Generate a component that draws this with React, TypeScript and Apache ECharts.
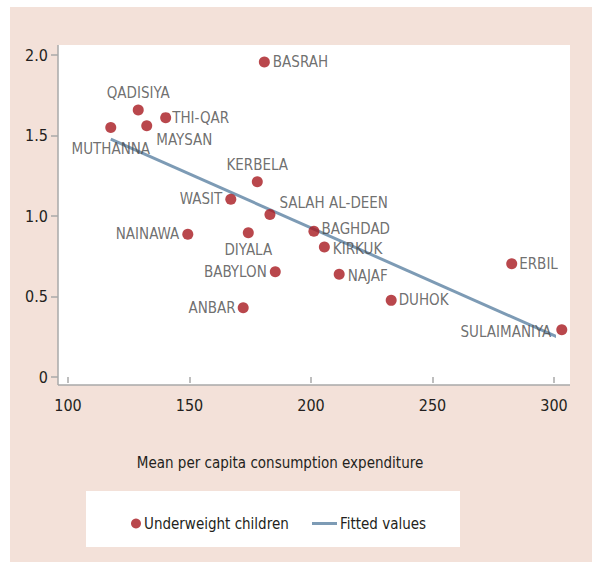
import React, { useEffect, useRef } from "react";
import * as echarts from "echarts";

const names = ["BASRAH","QADISIYA","MAYSAN","THI-QAR","MUTHANNA","KERBELA","WASIT","SALAH AL-DEEN","NAINAWA","DIYALA","BABYLON","ANBAR","BAGHDAD","KIRKUK","NAJAF","DUHOK","ERBIL","SULAIMANIYA"];
const expenditure = [180.8,128.9,132.4,140.2,117.6,177.9,167.0,183.1,149.3,174.2,185.3,172.1,201.2,205.5,211.6,233.0,282.6,303.2];
const underweight = [1.957,1.658,1.561,1.611,1.549,1.213,1.104,1.010,0.886,0.896,0.654,0.430,0.905,0.807,0.638,0.476,0.704,0.294];
const fitX = [117.6, 303.2];
const fitY = [1.478, 0.236];
const xTicks = { min: 100, max: 300, interval: 50 };
const yTicks = { min: 0, max: 2, interval: 0.5 };

const FONT = "'Liberation Sans Narrow', 'DejaVu Sans Condensed', 'Roboto Condensed', sans-serif";

const labelPlacement: Record<string, any> = {
  BASRAH: { position: "right", distance: 3 },
  QADISIYA: { position: "top", distance: 4 },
  MAYSAN: { position: "right", distance: 4, offset: [0, 14] },
  "THI-QAR": { position: "right", distance: 1 },
  MUTHANNA: { position: "bottom", distance: 8 },
  KERBELA: { position: "top", distance: 4 },
  WASIT: { position: "left", distance: 3 },
  "SALAH AL-DEEN": { position: "right", distance: 4, offset: [0, -11] },
  NAINAWA: { position: "left", distance: 3 },
  DIYALA: { position: "bottom", distance: 4 },
  BABYLON: { position: "left", distance: 3 },
  ANBAR: { position: "left", distance: 2 },
  BAGHDAD: { position: "right", distance: 2, offset: [0, -2] },
  KIRKUK: { position: "right", distance: 3, offset: [0, 2] },
  NAJAF: { position: "right", distance: 3, offset: [0, 2] },
  DUHOK: { position: "right", distance: 2 },
  ERBIL: { position: "right", distance: 2 },
  SULAIMANIYA: { position: "left", distance: 5, offset: [0, 2] },
};

export default function App() {
  const ref = useRef<HTMLDivElement>(null);
  useEffect(() => {
    const chart = echarts.init(ref.current!, null, { renderer: "svg" });
    const scatterData = names.map((n, i) => ({
      name: n,
      value: [expenditure[i], underweight[i]],
      label: { show: true, formatter: n, ...labelPlacement[n] },
    }));
    const fitData = fitX.map((x, i) => [x, fitY[i]]);
    chart.setOption({
      animation: false,
      backgroundColor: "#ffffff",
      textStyle: { fontFamily: FONT },
      graphic: [
        { type: "rect", z: -10, shape: { x: 10, y: 7, width: 582, height: 555 }, style: { fill: "#f3e1d9" }, silent: true },
        { type: "rect", z: -9, shape: { x: 58, y: 45, width: 512, height: 340 }, style: { fill: "#ffffff" }, silent: true },
        { type: "line", z: 5, shape: { x1: 58, y1: 45, x2: 58, y2: 385 }, style: { stroke: "#a8a8a8", lineWidth: 1.5 } },
        { type: "line", z: 5, shape: { x1: 58, y1: 385, x2: 570, y2: 385 }, style: { stroke: "#a8a8a8", lineWidth: 1.5 } },
        { type: "rect", z: -9, shape: { x: 86, y: 491, width: 374, height: 56 }, style: { fill: "#ffffff" }, silent: true },
        { type: "text", x: 280, y: 463, style: { text: "Mean per capita consumption expenditure", fontFamily: FONT, fontSize: 15, fill: "#231f20", textAlign: "center", textVerticalAlign: "middle" } },
      ],
      grid: { left: 68, top: 55, width: 486, height: 322, containLabel: false },
      xAxis: {
        type: "value",
        min: xTicks.min, max: xTicks.max, interval: xTicks.interval,
        offset: 8,
        axisLine: { show: false },
        axisTick: { show: true, length: 6, lineStyle: { color: "#a8a8a8", width: 1.5 } },
        axisLabel: { fontSize: 16, color: "#231f20", margin: 12, fontFamily: FONT },
        splitLine: { show: false },
      },
      yAxis: {
        type: "value",
        min: yTicks.min, max: yTicks.max, interval: yTicks.interval,
        offset: 10,
        axisLine: { show: false },
        axisTick: { show: true, length: 7, lineStyle: { color: "#a8a8a8", width: 1.5 } },
        axisLabel: { fontSize: 16, color: "#231f20", margin: 10, fontFamily: FONT, formatter: (v: number) => (v === 0 ? "0" : v.toFixed(1)) },
        splitLine: { show: false },
      },
      legend: [
        {
          data: [{ name: "Underweight children", icon: "circle" }],
          left: 126, top: 511, itemWidth: 10, itemHeight: 10, itemGap: 0,
          textStyle: { fontSize: 15, color: "#231f20", fontFamily: FONT, padding: [0, 0, 0, -2] },
          selectedMode: false,
        },
        {
          data: [{ name: "Fitted values", icon: "rect" }],
          left: 307, top: 511, itemWidth: 25, itemHeight: 3,
          textStyle: { fontSize: 15, color: "#231f20", fontFamily: FONT, padding: [0, 0, 0, -2] },
          selectedMode: false,
        },
      ],
      series: [
        {
          name: "Fitted values",
          type: "line",
          data: fitData,
          showSymbol: false,
          symbol: "none",
          clip: false,
          z: 2,
          lineStyle: { color: "#7d9bb5", width: 3 },
          itemStyle: { color: "#7d9bb5" },
        },
        {
          name: "Underweight children",
          type: "scatter",
          data: scatterData,
          symbolSize: 11,
          clip: false,
          z: 3,
          itemStyle: { color: "#a8191f" },
          label: { fontSize: 15, color: "#4a4a4a", fontFamily: FONT },
        },
      ],
    });
    return () => chart.dispose();
  }, []);
  return <div ref={ref} style={{ position: "fixed", left: 0, top: 0, width: 592, height: 562 }} />;
}
